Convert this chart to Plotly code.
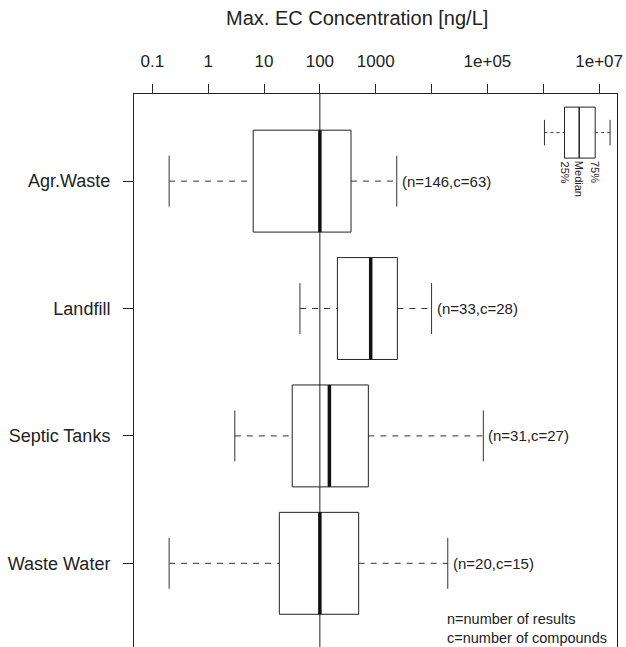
import math
import plotly.graph_objects as go

# Max. EC concentration per source type [ng/L]
categories = ["Waste Water", "Septic Tanks", "Landfill", "Agr.Waste"]
whisker_low = [0.2, 3.0, 44, 0.2]
quart_1 = [18.8, 32, 206, 6.4]
medians = [100, 148, 813, 100]
quart_3 = [495, 738, 2440, 361]
whisker_high = [19500, 84500, 10000, 2380]
n_results = [20, 31, 33, 146]
n_compounds = [15, 27, 28, 63]

# statistics of the small explanatory box in the corner
key_stats = [1.05e6, 2.4e6, 4.4e6, 8.5e6, 1.57e7]
key_labels = ["25%", "Median", "75%"]

tick_vals = [0.1, 1, 10, 100, 1000, 1e4, 1e5, 1e6, 1e7]
tick_text = ["0.1", "1", "10", "100", "1000", "", "1e+05", "", "1e+07"]

FONT = "Liberation Sans, Arial, Helvetica, sans-serif"
Y_RANGE = [0.343, 4.684]
BOX_HALF = 0.4
CAP_HALF = 0.2

# plot-area geometry in pixels (for placing free text)
PLOT_L, PLOT_W, PLOT_T, PLOT_H = 134, 483, 94, 553


def px_to_paper(xp, yp):
    return (xp - PLOT_L) / PLOT_W, 1 - (yp - PLOT_T) / PLOT_H


def box_paths(lo, a, m, b, hi, y, half, cap):
    """Return (outline, median, whiskers, caps) coordinate lists for one box."""
    outline = ([a, b, b, a, a, None], [y - half, y - half, y + half, y + half, y - half, None])
    med = ([m, m, None], [y - half, y + half, None])
    whisk = ([lo, a, None, b, hi, None], [y, y, None, y, y, None])
    caps = ([lo, lo, None, hi, hi, None], [y - cap, y + cap, None, y - cap, y + cap, None])
    return outline, med, whisk, caps


fig = go.Figure()

# vertical guide at 100 ng/L
fig.add_trace(go.Scatter(x=[100, 100], y=Y_RANGE, mode="lines",
                         line=dict(color="#222", width=1), hoverinfo="skip"))

ox, oy, mx, my, wx, wy, cx, cy = [], [], [], [], [], [], [], []
for i in range(len(categories)):
    pos = i + 1
    o, m, w, c = box_paths(whisker_low[i], quart_1[i], medians[i], quart_3[i],
                           whisker_high[i], pos, BOX_HALF, CAP_HALF)
    ox += o[0]; oy += o[1]; mx += m[0]; my += m[1]
    wx += w[0]; wy += w[1]; cx += c[0]; cy += c[1]

fig.add_trace(go.Scatter(x=wx, y=wy, mode="lines", line=dict(color="#333", width=1, dash="6px,6px")))
fig.add_trace(go.Scatter(x=cx, y=cy, mode="lines", line=dict(color="#333", width=1)))
fig.add_trace(go.Scatter(x=ox, y=oy, mode="lines", line=dict(color="#222", width=1)))
fig.add_trace(go.Scatter(x=mx, y=my, mode="lines", line=dict(color="#111", width=3.5)))

# explanatory key box
key_pos = 4.381
o, m, w, c = box_paths(*key_stats, key_pos, 0.2, 0.1)
fig.add_trace(go.Scatter(x=w[0], y=w[1], mode="lines", line=dict(color="#333", width=1, dash="3px,3px")))
fig.add_trace(go.Scatter(x=c[0], y=c[1], mode="lines", line=dict(color="#333", width=1)))
fig.add_trace(go.Scatter(x=o[0], y=o[1], mode="lines", line=dict(color="#222", width=1)))
fig.add_trace(go.Scatter(x=m[0], y=m[1], mode="lines", line=dict(color="#222", width=1.5)))

annotations = []
for i in range(len(categories)):
    annotations.append(dict(
        x=math.log10(whisker_high[i]), y=i + 1, xref="x", yref="y",
        text=f"(n={n_results[i]},c={n_compounds[i]})", showarrow=False,
        xanchor="left", yanchor="middle", xshift=3,
        font=dict(family=FONT, size=15, color="#222")))

for val, lab in zip(key_stats[1:4], key_labels):
    annotations.append(dict(
        x=math.log10(val), y=key_pos - 0.2, xref="x", yref="y", text=lab,
        showarrow=False, textangle=90, xanchor="center", yanchor="top", yshift=-1,
        font=dict(family=FONT, size=11, color="#222")))

tx, ty = px_to_paper(357, 18)
nx, ny = px_to_paper(445, 628)
annotations += [
    dict(x=tx, y=ty, xref="paper", yref="paper",
         text="Max. EC Concentration [ng/L]", showarrow=False,
         xanchor="center", yanchor="middle",
         font=dict(family=FONT, size=20, color="#222")),
    dict(x=nx, y=ny, xref="paper", yref="paper",
         text="n=number of results<br>c=number of compounds", showarrow=False,
         xanchor="left", yanchor="middle", align="left",
         font=dict(family=FONT, size=14.5, color="#222")),
]

fig.update_layout(
    width=626, height=647, autosize=False,
    margin=dict(l=134, r=9, t=94, b=0, pad=0),
    paper_bgcolor="white", plot_bgcolor="white",
    showlegend=False, annotations=annotations,
    font=dict(family=FONT, color="#222"),
)
fig.update_xaxes(
    type="log", side="top", range=[-1.328, 7.320],
    tickvals=tick_vals, ticktext=tick_text,
    showline=True, linecolor="#222", linewidth=1,
    ticks="outside", ticklen=9, tickcolor="#222", tickwidth=1,
    ticklabelstandoff=10,
    showgrid=False, zeroline=False, tickfont=dict(size=17, family=FONT, color="#222"),
)
fig.update_yaxes(
    range=Y_RANGE, tickvals=[1, 2, 3, 4], ticktext=categories,
    showline=True, mirror=True, linecolor="#222", linewidth=1,
    ticks="outside", ticklen=10, tickcolor="#222", tickwidth=1,
    ticklabelstandoff=9,
    showgrid=False, zeroline=False, tickfont=dict(size=18, family=FONT, color="#222"),
)

fig.write_html("out.html")
